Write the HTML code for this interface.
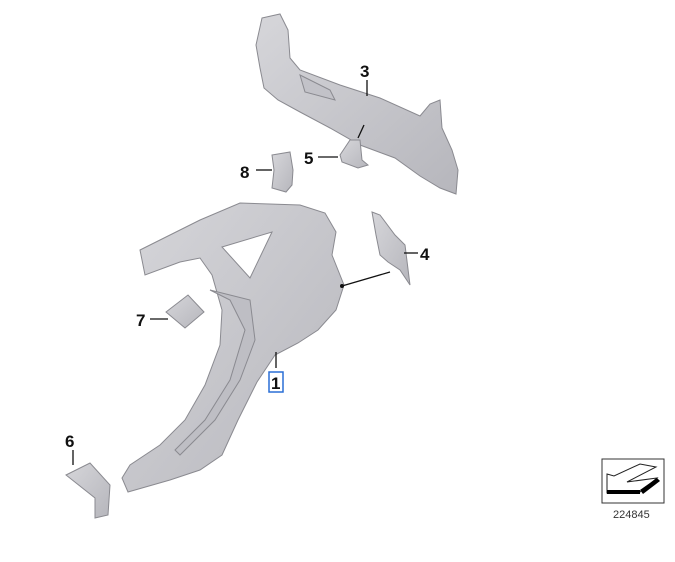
<!DOCTYPE html>
<html><head><meta charset="utf-8"><style>
html,body{margin:0;padding:0;background:#fff;}
svg{display:block}
text{font-family:"Liberation Sans",sans-serif;font-weight:bold;fill:#111}
</style></head><body>
<svg width="675" height="562" viewBox="0 0 675 562" xmlns="http://www.w3.org/2000/svg">
<defs>
<linearGradient id="g" x1="0" y1="0" x2="1" y2="1">
<stop offset="0" stop-color="#d6d6da"/><stop offset="1" stop-color="#b6b6bc"/></linearGradient>
</defs>
<g fill="url(#g)" stroke="#8a8a90" stroke-width="1">
<path d="M262,18 L280,14 L288,30 L290,58 L300,70 L340,85 L380,98 L420,116 L430,104 L440,100 L442,128 L452,150 L458,170 L456,194 L440,188 L420,176 L395,158 L360,145 L330,128 L300,112 L278,100 L264,88 L260,68 L256,45 Z"/>
<path d="M300,75 L330,90 L335,100 L305,92 Z" fill="#c2c2c8"/>
<path d="M340,155 L350,140 L360,140 L362,160 L368,165 L358,168 L342,162 Z"/>
<path d="M272,155 L290,152 L293,170 L292,185 L286,192 L272,188 L274,170 Z"/>
<path d="M140,250 L160,240 L200,220 L240,203 L300,205 L325,213 L336,232 L332,255 L344,285 L336,310 L318,330 L298,343 L275,355 L257,382 L238,420 L222,455 L200,470 L170,480 L128,492 L122,478 L130,465 L160,445 L185,420 L205,385 L220,345 L222,310 L212,275 L200,258 L180,262 L145,275 Z"/>
<path d="M222,247 L272,232 L250,278 Z" fill="#fff"/>
<path d="M210,290 L230,300 L245,330 L230,380 L205,420 L175,450 L180,455 L215,420 L240,380 L255,340 L250,300 Z" fill="#bebec4"/>
<path d="M372,212 L380,215 L395,235 L405,245 L410,285 L400,270 L388,262 L380,255 L376,235 Z"/>
<path d="M166,312 L188,295 L204,312 L185,328 Z"/>
<path d="M66,475 L90,463 L110,485 L108,515 L95,518 L95,498 Z"/>
</g>
<g stroke="#111" stroke-width="1.3" fill="none">
<line x1="367" y1="80" x2="367" y2="96"/>
<line x1="364" y1="125" x2="358" y2="138"/>
<line x1="318" y1="157" x2="338" y2="157"/>
<line x1="256" y1="170" x2="272" y2="170"/>
<line x1="404" y1="253" x2="418" y2="253"/>
<line x1="342" y1="286" x2="390" y2="272"/>
<line x1="150" y1="319" x2="168" y2="319"/>
<line x1="276" y1="352" x2="276" y2="368"/>
<line x1="73" y1="450" x2="73" y2="465"/>
</g>
<circle cx="342" cy="286" r="2" fill="#111"/>
<text x="360" y="77" font-size="17">3</text>
<text x="304" y="164" font-size="17">5</text>
<text x="240" y="178" font-size="17">8</text>
<text x="420" y="260" font-size="17">4</text>
<text x="136" y="326" font-size="17">7</text>
<text x="65" y="447" font-size="17">6</text>
<rect x="269" y="372" width="14" height="20" fill="none" stroke="#2a6fd6" stroke-width="1.5"/>
<text x="271" y="389" font-size="17">1</text>
<rect x="602" y="459" width="62" height="44" fill="#fff" stroke="#333" stroke-width="1"/>
<path d="M607,474 L614,476 L640,464 L656,467 L627,482 L657,478 L640,492 L607,493 Z" fill="#fff" stroke="#222" stroke-width="1"/>
<rect x="607" y="490" width="33" height="4" fill="#000"/>
<path d="M640,490 L657,478 L660,481 L643,494 Z" fill="#000"/>
<text x="613" y="518" font-size="11" style="font-weight:normal;fill:#333">224845</text>
</svg>
</body></html>
